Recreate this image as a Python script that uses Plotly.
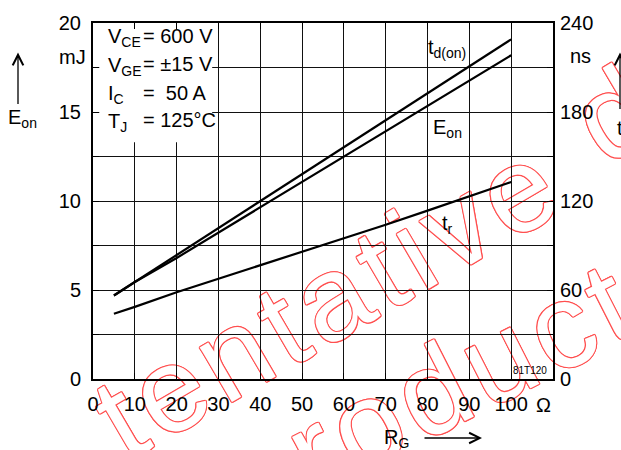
import math
import plotly.graph_objects as go

# ---------------- data ----------------
rg = [5, 10, 20, 30, 40, 50, 60, 70, 80, 90, 100]                       # R_G in Ohm
eon_mj = [4.69, 5.45, 6.8, 8.22, 9.65, 11.07, 12.5, 13.92, 15.34, 16.77, 18.19]  # E_on (mJ)
td_on_ns = [56.3, 65.4, 83.4, 101.6, 119.8, 138.0, 156.2, 174.4, 192.6, 210.8, 229.0]  # t_d(on) (ns)
tr_ns = [44.0, 48.6, 58.5, 67.6, 76.9, 85.7, 94.6, 104.0, 113.5, 122.9, 132.8]  # t_r (ns)

x_tickvals = [0, 10, 20, 30, 40, 50, 60, 70, 80, 90, 100]
x_ticktext = ["0", "10", "20", "30", "40", "50", "60", "70", "80", "90", "100"]
y_gridvals = [0, 2.5, 5, 7.5, 10, 12.5, 15, 17.5, 20]
y_ticktext = ["0", "", "5", "", "10", "", "15", "", "20"]
y2_tickvals = [0, 60, 120, 180, 240]
y2_ticktext = ["0", "60", "120", "180", "240"]

conditions = [("V<sub>CE</sub>", "= 600 V"),
              ("V<sub>GE</sub>", "= \u00b115 V"),
              ("I<sub>C</sub>", "=\u00a0\u00a050 A"),
              ("T<sub>J</sub>", "= 125\u00b0C")]

wm_word1 = "tentative"
wm_word2 = "data"
wm_word3 = "product"

# ---------------- geometry helpers ----------------
W, H = 621, 450
L, R, T, B = 93, 553, 17, 379
FONT = "Liberation Sans, Arial, sans-serif"


def px(x):
    return (x - L) / (R - L)


def py(y):
    return (B - y) / (B - T)


fig = go.Figure()
fig.add_trace(go.Scatter(x=rg, y=td_on_ns, mode="lines", yaxis="y2",
                         line=dict(color="black", width=2.2), name="t_d(on)"))
fig.add_trace(go.Scatter(x=rg, y=eon_mj, mode="lines", yaxis="y",
                         line=dict(color="black", width=2.2), name="E_on"))
fig.add_trace(go.Scatter(x=rg, y=tr_ns, mode="lines", yaxis="y2",
                         line=dict(color="black", width=2.2), name="t_r"))

shapes = []
# watermark (outlined red letters, drawn below the grid)
shadow = ", ".join(f"{dx}px {dy}px 0 #ff5050" for dx, dy in
                   [(1.2, 0), (-1.2, 0), (0, 1.2), (0, -1.2),
                    (0.85, 0.85), (-0.85, -0.85), (0.85, -0.85), (-0.85, 0.85)])
ADV = {"t": .278, "e": .556, "n": .556, "a": .556, "i": .222, "v": .5, "d": .556,
       " ": .278, "p": .556, "r": .333, "o": .556, "u": .556, "c": .5}
WM_SIZE = 120
WM_GAP = 7


def add_word(text, x0, y0, angle_deg, ref_index=0):
    ux, uy = math.cos(math.radians(angle_deg)), -math.sin(math.radians(angle_deg))
    centers = []
    pos = 0.0
    for ch in text:
        w = ADV[ch] * WM_SIZE
        centers.append(pos + w / 2)
        pos += w + WM_GAP
    base = centers[ref_index]
    for ch, c in zip(text, centers):
        if ch == " ":
            continue
        d = c - base
        cx, cy = x0 + d * ux, y0 + d * uy
        shapes.append(dict(type="rect", xref="paper", yref="paper", layer="below",
                           x0=px(cx), x1=px(cx), y0=py(cy), y1=py(cy),
                           line=dict(width=0), fillcolor="rgba(0,0,0,0)",
                           label=dict(text=ch, textangle=-angle_deg,
                                      textposition="middle center",
                                      font=dict(family="Liberation Sans, Arial", size=WM_SIZE,
                                                color="white", shadow=shadow))))


add_word(wm_word1, 114, 409, 30.3, 0)
add_word(wm_word2, 607, 100, 30.3, 0)
add_word(wm_word3, 427, 381, 27, 3)

# white box behind the conditions text
shapes.append(dict(type="rect", xref="x", yref="y", layer="between",
                   x0=1.5, x1=28.5, y0=13.3, y1=19.7,
                   fillcolor="white", line=dict(width=0)))

ann = []


def text(t, x, y, size=20, xanchor="left", yanchor="middle", **kw):
    ann.append(dict(text=t, x=px(x), y=py(y), xref="paper", yref="paper",
                    xanchor=xanchor, yanchor=yanchor, showarrow=False,
                    font=dict(family=FONT, size=size, color="black"), **kw))


def arrow(x, y, ax, ay):
    ann.append(dict(text="", x=px(x), y=py(y), xref="paper", yref="paper",
                    ax=ax, ay=ay, showarrow=True, arrowhead=5, arrowsize=1.6,
                    arrowwidth=1.3, arrowcolor="black"))


ys = [32, 61, 90, 118]
for (lab, val), yy in zip(conditions, ys):
    text(lab, 106, yy)
    text(val, 141, yy - 2)

text("mJ", 57, 52)
text("ns", 568, 51)
text("E<sub>on</sub>", 6, 114)
arrow(18, 47, 0, 53)
text("t", 615, 124)
arrow(620, 47, 0, 58)
text("t<sub>d(on)</sub>", 426, 43)
text("E<sub>on</sub>", 431, 124)
text("t<sub>r</sub>", 440, 222)
text("\u03a9", 534, 405)
text("R<sub>G</sub>", 382, 440)
arrow(482, 439, -59, 0)
text("81T120", 549, 370, size=10, xanchor="right")

axis_common = dict(showline=True, linecolor="black", linewidth=2, mirror="ticks",
                   ticks="inside", ticklen=6, tickcolor="black", tickwidth=1.2,
                   showgrid=True, gridcolor="#111", gridwidth=1.1, zeroline=False,
                   tickfont=dict(family=FONT, size=20, color="black"), fixedrange=True)

fig.update_layout(
    width=W, height=H,
    margin=dict(l=L, r=W - R, t=T, b=H - B),
    paper_bgcolor="white", plot_bgcolor="rgba(0,0,0,0)",
    showlegend=False,
    xaxis=dict(range=[0, 110], tickmode="array", tickvals=x_tickvals, ticktext=x_ticktext,
               ticklabelstandoff=6, **axis_common),
    yaxis=dict(range=[0, 20], tickmode="array", tickvals=y_gridvals, ticktext=y_ticktext,
               ticklabelstandoff=6, **axis_common),
    yaxis2=dict(range=[0, 240], overlaying="y", side="right", tickmode="array",
                tickvals=y2_tickvals, ticktext=y2_ticktext, showgrid=False, showline=False,
                ticks="", zeroline=False, ticklabelstandoff=6,
                tickfont=dict(family=FONT, size=20, color="black"), fixedrange=True),
    shapes=shapes,
    annotations=ann,
)

fig.write_html("out.html")
